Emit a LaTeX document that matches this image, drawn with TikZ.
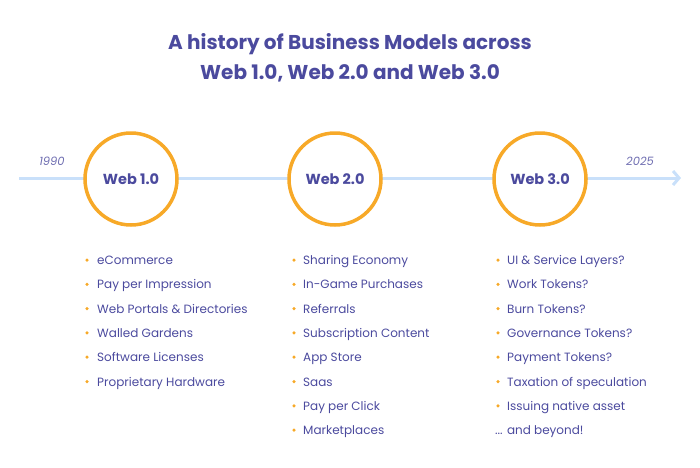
\documentclass[tikz,border=0pt]{standalone}
\usepackage{fontspec}
\setmainfont{Poppins}
\usetikzlibrary{arrows.meta}
\definecolor{ink}{HTML}{4B4A9E}
\definecolor{tl}{HTML}{C9E0FA}
\definecolor{org}{HTML}{F7A928}
\begin{document}
\begin{tikzpicture}[x=1pt,y=-1pt,
  circ/.style={circle,draw=org,line width=3.5pt,fill=white,minimum size=92pt,text=ink,font=\fontsize{14.5}{16}\selectfont\bfseries},
  item/.style={anchor=base west,text=ink,font=\fontsize{12}{14}\selectfont,inner sep=0pt},
  dot/.style={circle,fill=org,inner sep=0pt,minimum size=3.5pt},
  yr/.style={text=ink!80,font=\fontsize{11.5}{13}\selectfont\itshape}]
\useasboundingbox (0,0) rectangle (700,467);
\node[text=ink,font=\fontsize{20}{30}\selectfont\bfseries,align=center] (title) at (350,58) {A history of Business Models across\\Web 1.0, Web 2.0 and Web 3.0};
\coordinate (s) at (19,178);
\coordinate (e) at (681,178);
\draw[tl,line width=3pt,-{Straight Barb[length=6pt,width=14pt]}] (s) -- (e);
\node[yr] (y1) at (52,161) {1990};
\node[yr] (y2) at (640,161) {2025};
\node[circ] (w1) at (131,179) {Web 1.0};
\node[circ] (w2) at (335,179) {Web 2.0};
\node[circ] (w3) at (540,179) {Web 3.0};
\foreach \t [count=\i] in {eCommerce,Pay per Impression,Web Portals \& Directories,Walled Gardens,Software Licenses,Proprietary Hardware}{
  \node[dot] (a\i d) at (87,260+24.3*\i-24.3) {};
  \node[item] (a\i) at (97,264.5+24.3*\i-24.3) {\t};}
\foreach \t [count=\i] in {Sharing Economy,In-Game Purchases,Referrals,Subscription Content,App Store,Saas,Pay per Click,Marketplaces}{
  \node[dot] (b\i d) at (294,260+24.3*\i-24.3) {};
  \node[item] (b\i) at (303,264.5+24.3*\i-24.3) {\t};}
\foreach \t [count=\i] in {UI \& Service Layers?,Work Tokens?,Burn Tokens?,Governance Tokens?,Payment Tokens?,Taxation of speculation,Issuing native asset}{
  \node[dot] (c\i d) at (498,260+24.3*\i-24.3) {};
  \node[item] (c\i) at (507,264.5+24.3*\i-24.3) {\t};}
\node[item] (c8) at (495,434.6) {... and beyond!};
\end{tikzpicture}
\end{document}
